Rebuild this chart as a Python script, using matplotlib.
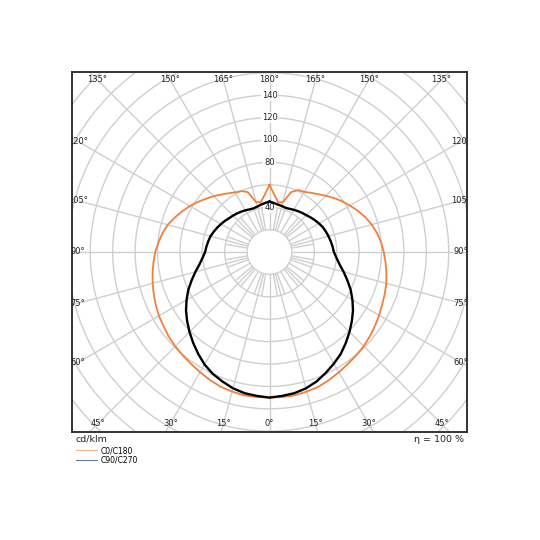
import numpy as np
import matplotlib
matplotlib.use('Agg')
import matplotlib.pyplot as plt
from matplotlib.patches import Circle
from matplotlib.lines import Line2D

# ---- data (cd/klm), gamma in degrees ----
gamma = np.arange(0, 181, 5)
c0 = [130, 130, 130, 129, 128, 126, 124, 122, 120.5, 119, 117, 115, 113, 111, 109.5, 108, 106, 104, 102,
      100, 97.5, 94.5, 91, 87, 83, 79, 75, 71, 67.5, 64.5, 62, 61, 57, 46, 45, 51, 60]
c180 = [130, 130, 130, 129, 128, 126, 124, 122, 120.5, 119, 117.5, 115.5, 114, 112, 110, 108, 106, 104, 102,
        99.5, 97, 94, 90, 86, 82, 78, 74, 70.5, 67, 64, 61.5, 60, 57, 46, 45, 51, 60]
c90 = [130, 129, 128, 126, 123, 119, 115, 111, 106, 101, 96, 91, 85.5, 80, 74, 68.5, 63.5, 60, 57.5,
       56.5, 55.5, 54.5, 53.5, 52.5, 51, 49.5, 48, 46.5, 45.5, 44.5, 43.5, 42.5, 42, 42.5, 43, 44, 45]
c270 = [130, 129, 128, 126, 123, 120, 116, 111, 106, 101, 96, 91, 85.5, 80, 74, 68.5, 63.5, 60, 57.5,
        56.5, 55.5, 54.5, 53, 51.5, 50, 48.5, 47, 46, 45, 44, 43, 42, 41.5, 42, 43, 44, 45]

ring_values = np.arange(20, 261, 20)
ring_labels = [40, 80, 100, 120, 140]
angle_labels = [0, 15, 30, 45, 60, 75, 90, 105, 120, 135, 150, 165, 180]
unit_label = 'cd/klm'
eta_label = 'η = 100 %'
legend_labels = ['C0/C180', 'C90/C270']

ORANGE = '#f07f3c'
GRID = '#cfcfcf'

W, H = 540, 540
fig = plt.figure(figsize=(W / 100, H / 100), dpi=100)
ax = fig.add_axes([72 / W, (H - 432) / H, 395 / W, 360 / H])
scale = 1.12  # px per cd/klm
xl = 197.5 / scale
yl = 180 / scale
ax.set_xlim(-xl, xl)
ax.set_ylim(-yl, yl)
ax.set_xticks([])
ax.set_yticks([])
for s in ax.spines.values():
    s.set_color('#333333')
    s.set_linewidth(1.4)

# rings
for r in ring_values:
    ax.add_patch(Circle((0, 0), r, fill=False, ec=GRID, lw=1.0, zorder=1))

# radial lines
for a in np.arange(0, 360, 15):
    t = np.radians(a)
    ax.plot([20 * np.sin(t), 400 * np.sin(t)], [-20 * np.cos(t), -400 * np.cos(t)],
            color=GRID, lw=1.0, zorder=1, solid_capstyle='butt')
for a in np.arange(0, 360, 10):
    if a % 15 == 0:
        continue
    t = np.radians(a)
    ax.plot([20 * np.sin(t), 40 * np.sin(t)], [-20 * np.cos(t), -40 * np.cos(t)],
            color=GRID, lw=1.0, zorder=1, solid_capstyle='butt')


def curve(left, right):
    g = np.radians(gamma)
    xl_ = -np.asarray(left) * np.sin(g)
    yl_ = -np.asarray(left) * np.cos(g)
    xr = np.asarray(right) * np.sin(g)
    yr = -np.asarray(right) * np.cos(g)
    x = np.concatenate([xl_[::-1], xr])
    y = np.concatenate([yl_[::-1], yr])
    return x, y


x, y = curve(c180, c0)
ax.plot(x, y, color=ORANGE, lw=1.3, zorder=4, solid_joinstyle='round')
x, y = curve(c270, c90)
ax.plot(x, y, color='black', lw=1.7, zorder=5, solid_joinstyle='round')

# radial value labels
for v in ring_labels:
    ax.text(0, v, str(v), ha='center', va='center', fontsize=6, color='#222222', zorder=3,
            bbox=dict(facecolor='white', edgecolor='none', pad=0.6))

# angle labels along the inset frame
inset_tb = 8 / scale
inset_lr = 6 / scale
xi, yi = xl - inset_lr, yl - inset_tb
for a in angle_labels:
    t = np.radians(a)
    for sgn in ([1, -1] if a not in (0, 180) else [1]):
        sx = sgn * np.sin(t)
        sy = -np.cos(t)
        cand = []
        if abs(sx) > 1e-9:
            cand.append(xi / abs(sx))
        if abs(sy) > 1e-9:
            cand.append(yi / abs(sy))
        d = min(cand)
        ax.text(d * sx, d * sy, f'{a}°', ha='center', va='center', fontsize=6,
                color='#222222', clip_on=True, zorder=3)

fig.text(76 / W, 1 - 439 / H, unit_label, ha='left', va='center', fontsize=6.8, color='#222222')
fig.text(464 / W, 1 - 439 / H, eta_label, ha='right', va='center', fontsize=6.8, color='#222222')

handles = [Line2D([], [], color='#f7b48a', lw=0.8), Line2D([], [], color='#707888', lw=0.8)]
fig.legend(handles, legend_labels, loc='upper left', bbox_to_anchor=(76 / W, 1 - 446 / H),
           frameon=False, fontsize=5.5, handlelength=2.8, handletextpad=0.4,
           labelspacing=0.05, borderpad=0, borderaxespad=0)

fig.savefig('out.png', dpi=100, facecolor='white')
